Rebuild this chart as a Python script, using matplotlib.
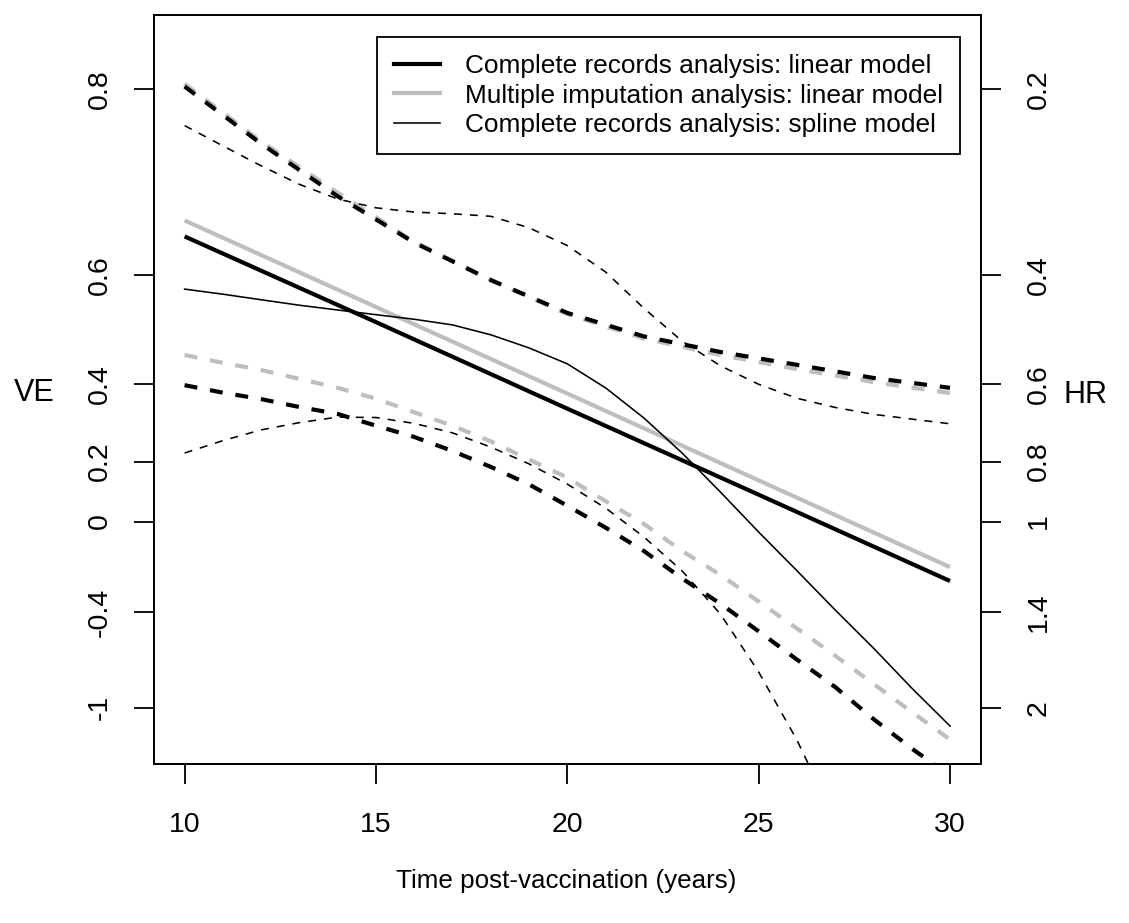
import numpy as np
import matplotlib
matplotlib.use("Agg")
import matplotlib.pyplot as plt
from matplotlib.lines import Line2D

plt.rcParams['font.family'] = ['Liberation Sans', 'DejaVu Sans']

# ---------------- data (VE = 1 - HR) ----------------
lin_years = [10, 15, 20, 25, 30]
cr_linear_ve = [0.654, 0.524, 0.343, 0.095, -0.248]
mi_linear_ve = [0.674, 0.550, 0.379, 0.142, -0.185]

upper_years = [10, 12, 14, 16, 18, 20, 22, 24, 26, 28, 30]
cr_linear_upper = [0.802, 0.755, 0.702, 0.646, 0.593, 0.540, 0.498, 0.468, 0.442, 0.414, 0.392]
mi_linear_upper = [0.804, 0.757, 0.706, 0.647, 0.593, 0.538, 0.494, 0.462, 0.433, 0.405, 0.380]

years = [10, 11, 12, 13, 14, 15, 16, 17, 18, 19, 20,
         21, 22, 23, 24, 25, 26, 27, 28, 29, 30]
cr_linear_lower = [0.398, 0.381, 0.366, 0.347, 0.330, 0.300, 0.270, 0.231, 0.184, 0.129, 0.057,
                   -0.023, -0.116, -0.236, -0.358, -0.505, -0.672, -0.852, -1.086, -1.328, -1.579]
mi_linear_lower = [0.462, 0.446, 0.431, 0.412, 0.392, 0.367, 0.334, 0.300, 0.258, 0.206, 0.151,
                   0.073, -0.009, -0.116, -0.220, -0.347, -0.489, -0.648, -0.830, -1.032, -1.251]

cr_spline_ve = [0.579, 0.571, 0.562, 0.553, 0.545, 0.537, 0.529, 0.519, 0.501, 0.476, 0.444,
                0.392, 0.320, 0.225, 0.104, -0.040, -0.201, -0.390, -0.602, -0.859, -1.141]
cr_spline_upper = [0.771, 0.753, 0.734, 0.715, 0.699, 0.689, 0.684, 0.682, 0.679, 0.665, 0.642,
                   0.605, 0.548, 0.489, 0.440, 0.400, 0.368, 0.346, 0.329, 0.317, 0.305]
spline_lower_years = [10, 11, 12, 13, 14, 15, 16, 17, 18, 19, 20, 21, 22, 23, 24, 25, 26, 27]
cr_spline_lower = [0.225, 0.260, 0.289, 0.308, 0.322, 0.321, 0.306, 0.281, 0.242, 0.193, 0.130,
                   0.049, -0.059, -0.202, -0.411, -0.751, -1.256, -2.038]

ve_ticks = [0.8, 0.6, 0.4, 0.2, 0, -0.4, -1]
ve_tick_labels = ['0.8', '0.6', '0.4', '0.2', '0', '-0.4', '-1']
hr_ticks = [0.2, 0.4, 0.6, 0.8, 1, 1.4, 2]
hr_tick_labels = ['0.2', '0.4', '0.6', '0.8', '1', '1.4', '2']
x_ticks = [10, 15, 20, 25, 30]

legend_labels = ['Complete records analysis: linear model',
                 'Multiple imputation analysis: linear model',
                 'Complete records analysis: spline model']


def to_log_hr(ve):
    return np.log(1.0 - np.asarray(ve, dtype=float))


# ---------------- figure ----------------
W, H = 1129, 923
fig = plt.figure(figsize=(W / 100, H / 100), dpi=100)
left_px, right_px, top_px, bottom_px = 154, 980.6, 15, 764
ax = fig.add_axes([left_px / W, 1 - bottom_px / H,
                   (right_px - left_px) / W, (bottom_px - top_px) / H])

GREY = '#BEBEBE'
thick = 3.0
thin = 1.15
dash_thick = (0, (3.1, 3.1))
dash_thin = (0, (5.0, 5.0))

# multiple imputation (grey)
ax.plot(lin_years, to_log_hr(mi_linear_ve), color=GREY, lw=thick, solid_capstyle='butt')
ax.plot(upper_years, to_log_hr(mi_linear_upper), color=GREY, lw=thick, ls=dash_thick)
ax.plot(years, to_log_hr(mi_linear_lower), color=GREY, lw=thick, ls=dash_thick)

# complete records linear (black thick)
ax.plot(lin_years, to_log_hr(cr_linear_ve), color='black', lw=thick, solid_capstyle='butt')
ax.plot(upper_years, to_log_hr(cr_linear_upper), color='black', lw=thick, ls=dash_thick)
ax.plot(years, to_log_hr(cr_linear_lower), color='black', lw=thick, ls=dash_thick)

# complete records spline (black thin)
ax.plot(years, to_log_hr(cr_spline_ve), color='black', lw=thin)
ax.plot(years, to_log_hr(cr_spline_upper), color='black', lw=thin, ls=dash_thin)
ax.plot(spline_lower_years, to_log_hr(cr_spline_lower), color='black', lw=thin, ls=dash_thin)

ylo = (bottom_px - 521.5) / 268.6
yhi = (top_px - 521.5) / 268.6
ax.set_ylim(ylo, yhi)
ax.set_xlim(9.2, 30.8)

tick_fs = 20.5
ax.set_xticks(x_ticks)
ax.set_xticklabels([str(v) for v in x_ticks])
ax.tick_params(axis='x', length=14.4, width=1.3, pad=20, labelsize=tick_fs)
ax.set_yticks(to_log_hr(ve_ticks))
ax.set_yticklabels(ve_tick_labels, rotation=90, va='center')
ax.tick_params(axis='y', length=14.4, width=1.3, pad=15, labelsize=tick_fs)

ax2 = ax.twinx()
ax2.set_ylim(ax.get_ylim())
ax2.set_yticks(np.log(hr_ticks))
ax2.set_yticklabels(hr_tick_labels, rotation=90, va='center')
ax2.tick_params(axis='y', length=14.4, width=1.3, pad=18, labelsize=tick_fs)

for a in (ax, ax2):
    for s in a.spines.values():
        s.set_linewidth(1.3)

handles = [Line2D([], [], color='black', lw=thick),
           Line2D([], [], color=GREY, lw=thick),
           Line2D([], [], color='black', lw=thin)]
leg = ax.legend(handles, legend_labels, loc='upper right',
                bbox_to_anchor=((960 - left_px) / (right_px - left_px),
                                (bottom_px - 37) / (bottom_px - top_px)),
                borderaxespad=0, fancybox=False, framealpha=1, edgecolor='black',
                fontsize=18.9, handlelength=1.75, handletextpad=0.95,
                borderpad=0.65, labelspacing=0.21)
leg.get_frame().set_linewidth(1.3)

fig.text(34 / W, 1 - 393 / H, 'VE', ha='center', va='center', fontsize=22)
fig.text(1086 / W, 1 - 395 / H, 'HR', ha='center', va='center', fontsize=22)
fig.text(566 / W, 1 - 881 / H, 'Time post-vaccination (years)',
         ha='center', va='center', fontsize=18.7)

fig.savefig('out.png', dpi=100)
